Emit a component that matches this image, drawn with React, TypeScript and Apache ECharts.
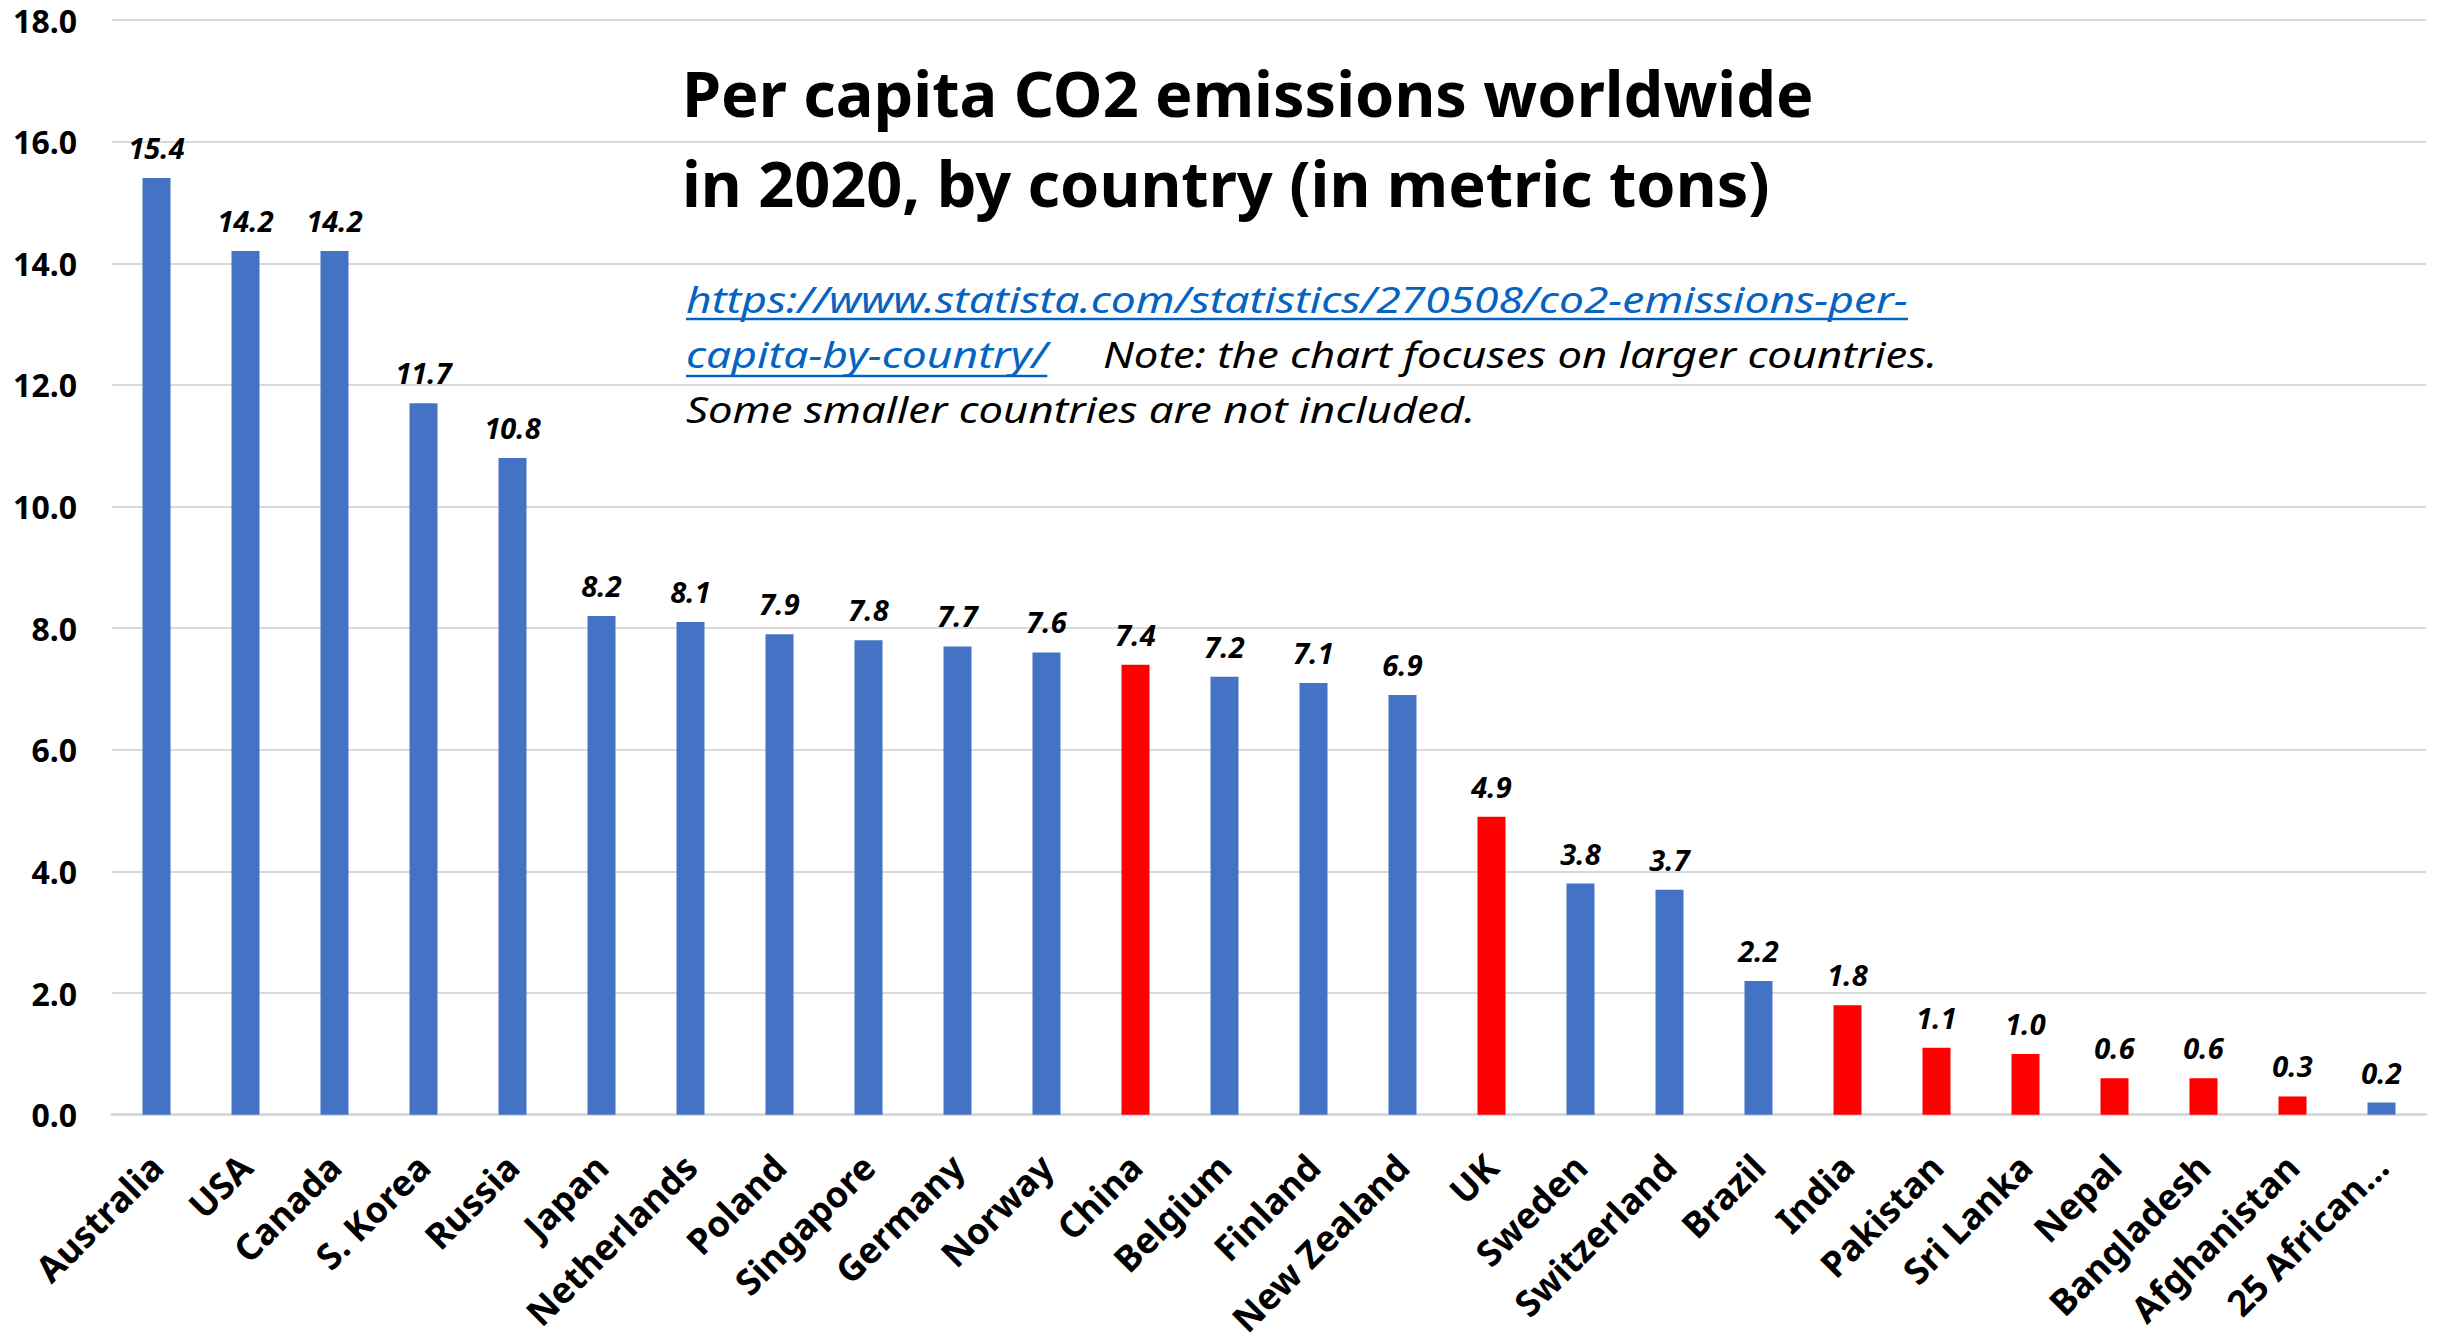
import { useEffect, useRef } from "react";
import * as echarts from "echarts";

// Per capita CO2 emissions, 2020 (metric tons per person)
const categories = [
  "Australia", "USA", "Canada", "S. Korea", "Russia", "Japan", "Netherlands",
  "Poland", "Singapore", "Germany", "Norway", "China", "Belgium", "Finland",
  "New Zealand", "UK", "Sweden", "Switzerland", "Brazil", "India", "Pakistan",
  "Sri Lanka", "Nepal", "Bangladesh", "Afghanistan", "25 African...",
];
const emissions = [
  15.4, 14.2, 14.2, 11.7, 10.8, 8.2, 8.1, 7.9, 7.8, 7.7, 7.6, 7.4, 7.2, 7.1,
  6.9, 4.9, 3.8, 3.7, 2.2, 1.8, 1.1, 1.0, 0.6, 0.6, 0.3, 0.2,
];
const highlighted = [
  "China", "UK", "India", "Pakistan", "Sri Lanka", "Nepal", "Bangladesh", "Afghanistan",
];

const yMin = 0;
const yMax = 18;
const yStep = 2;

const titleLines = [
  "Per capita CO2 emissions worldwide",
  "in 2020, by country (in metric tons)",
];
const linkLines = [
  "https://www.statista.com/statistics/270508/co2-emissions-per-",
  "capita-by-country/",
];
const noteLines = [
  "Note: the chart focuses on larger countries.",
  "Some smaller countries are not included.",
];

const BLUE = "#4472C4";
const RED = "#FF0000";
const LINK = "#0563C1";
const FONT = "'Noto Sans', sans-serif";

function measure(text: string, font: string): number {
  const ctx = document.createElement("canvas").getContext("2d");
  if (!ctx) return 0;
  ctx.font = font;
  return ctx.measureText(text).width;
}

export default function App() {
  const ref = useRef<HTMLDivElement>(null);

  useEffect(() => {
    if (!ref.current) return;
    const chart = echarts.init(ref.current, null, { renderer: "svg" });

    const left = 686;
    const titleSize = 63;
    const titleScale = 1.0;
    const noteSize = 37;
    const noteScale = 1.2;
    // vertical "middle" in SVG sits about 0.39em above the alphabetic baseline
    const mid = (baseline: number, size: number) => baseline - 0.39 * size;

    const noteFont = `italic 400 ${noteSize}px 'Noto Sans'`;
    const link1W = measure(linkLines[0], noteFont) * noteScale;
    const link2W = measure(linkLines[1], noteFont) * noteScale;

    const textEl = (
      text: string,
      x: number,
      baseline: number,
      size: number,
      scale: number,
      extra: Record<string, unknown>
    ) => ({
      type: "text",
      x,
      y: mid(baseline, size),
      scaleX: scale,
      silent: true,
      style: {
        text,
        x: 0,
        y: 0,
        fontSize: size,
        fontFamily: FONT,
        verticalAlign: "middle",
        align: "left",
        fill: "#000",
        ...extra,
      },
    });

    const graphic = [
      textEl(titleLines[0], left - 4, 117, titleSize, titleScale, { fontWeight: "bold" }),
      textEl(titleLines[1], left - 4, 207, titleSize, titleScale, { fontWeight: "bold" }),
      textEl(linkLines[0], left, 313, noteSize, noteScale, { fontStyle: "italic", fill: LINK }),
      textEl(linkLines[1], left, 368, noteSize, noteScale, { fontStyle: "italic", fill: LINK }),
      textEl(noteLines[0], 1103, 368, noteSize, 1.18, { fontStyle: "italic" }),
      textEl(noteLines[1], left, 423, noteSize, 1.18, { fontStyle: "italic" }),
      {
        type: "line",
        silent: true,
        shape: { x1: left, y1: 319, x2: left + link1W, y2: 319 },
        style: { stroke: LINK, lineWidth: 2.5 },
      },
      {
        type: "line",
        silent: true,
        shape: { x1: left, y1: 376, x2: left + link2W, y2: 376 },
        style: { stroke: LINK, lineWidth: 2.5 },
      },
    ];

    chart.setOption({
      animation: false,
      backgroundColor: "#ffffff",
      grid: { left: 112, right: 20, top: 20, bottom: 222, containLabel: false },
      xAxis: {
        type: "category",
        data: categories,
        axisLine: { lineStyle: { color: "#d9d9d9", width: 3 } },
        axisTick: { show: false },
        axisLabel: {
          interval: 0,
          rotate: 45,
          margin: 46,
          color: "#000",
          fontFamily: FONT,
          fontWeight: "bold",
          fontSize: 36,
          hideOverlap: false,
        },
      },
      yAxis: {
        type: "value",
        min: yMin,
        max: yMax,
        interval: yStep,
        axisLine: { show: false },
        axisTick: { show: false },
        splitLine: { lineStyle: { color: "#d9d9d9", width: 2 } },
        axisLabel: {
          margin: 35,
          color: "#000",
          fontFamily: FONT,
          fontWeight: "bold",
          fontSize: 32,
          lineHeight: 32,
          formatter: (v: number) => v.toFixed(1),
        },
      },
      series: [
        {
          type: "bar",
          barWidth: 28,
          data: emissions.map((v, i) => ({
            value: v,
            itemStyle: { color: highlighted.includes(categories[i]) ? RED : BLUE },
          })),
          label: {
            show: true,
            position: "top",
            distance: 16,
            color: "#000",
            fontFamily: FONT,
            fontWeight: "bold",
            fontStyle: "italic",
            fontSize: 29,
            formatter: (p: { value: number }) => Number(p.value).toFixed(1),
          },
        },
      ],
      graphic,
    });

    return () => chart.dispose();
  }, []);

  return (
    <div
      ref={ref}
      style={{
        position: "fixed",
        left: 0,
        top: 0,
        width: 2446,
        height: 1340,
        background: "#fff",
      }}
    />
  );
}
